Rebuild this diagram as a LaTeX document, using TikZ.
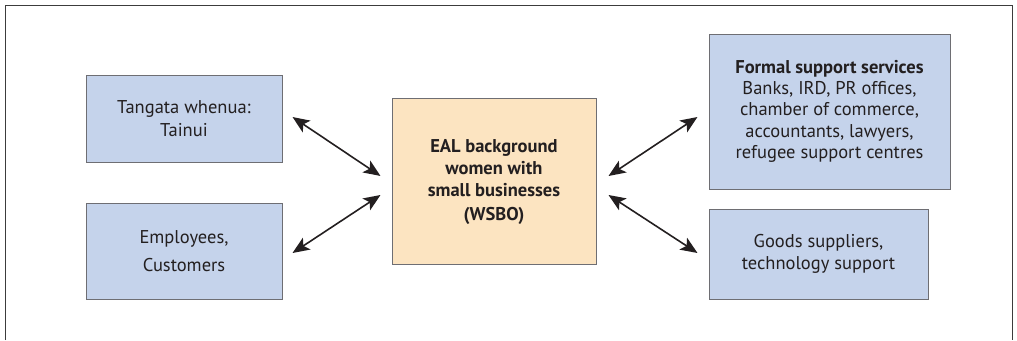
\documentclass[tikz,border=0pt]{standalone}
\usepackage{fontspec}
\setmainfont{PT Sans}
\usetikzlibrary{arrows.meta}
\definecolor{boxblue}{RGB}{197,211,235}
\definecolor{boxorange}{RGB}{252,228,193}
\definecolor{boxline}{RGB}{110,110,115}
\definecolor{frameline}{RGB}{60,60,60}
\definecolor{txt}{RGB}{35,31,32}
\tikzset{
  bluebox/.style={draw=boxline, line width=1pt, fill=boxblue, align=center, inner sep=0pt, font=\fontsize{18.5}{21.5}\selectfont, text=txt},
  orangebox/.style={draw=boxline, line width=1pt, fill=boxorange, align=center, inner sep=0pt, font=\fontsize{18.5}{22}\selectfont\bfseries, text=txt},
  arr/.style={{Stealth[length=17pt,width=14pt,inset=4pt]}-{Stealth[length=17pt,width=14pt,inset=4pt]}, line width=1.6pt, draw=txt},
}
\begin{document}
\begin{tikzpicture}[x=1pt,y=-1pt]
\useasboundingbox (0,0) rectangle (1017,340);
\draw[frameline, line width=1pt] (5,340) -- (5,5) -- (1012,5) -- (1012,340);
\node[bluebox, minimum width=196pt, minimum height=87pt] (t1) at (184,118.5) {Tangata whenua:\\[2pt]Tainui};
\node[bluebox, minimum width=196pt, minimum height=96pt] (t2) at (184,251) {Employees,\\[7pt]Customers};
\node[orangebox, minimum width=204pt, minimum height=166pt] (c) at (494,181) {\mbox{}\\[-6pt]EAL background\\women with\\small businesses\\[2pt](WSBO)};
\node[bluebox, minimum width=241pt, minimum height=155pt] (r1) at (829.5,111.5) {\textbf{Formal support services}\\[-1pt]Banks, IRD, PR offices,\\chamber of commerce,\\accountants, lawyers,\\refugee support centres\\[-18pt]\mbox{}};
\node[bluebox, minimum width=219pt, minimum height=90pt] (r2) at (818.5,254) {Goods suppliers,\\technology support};
\draw[arr] ([xshift=10pt,yshift=1.5pt]t1.east) -- ([xshift=-11pt,yshift=5pt]c.west);
\draw[arr] ([xshift=10pt,yshift=-2pt]t2.east) -- ([xshift=-11pt,yshift=-14pt]c.west);
\draw[arr] ([xshift=12pt,yshift=5pt]c.east) -- ([xshift=-11pt,yshift=-5.5pt]r1.west);
\draw[arr] ([xshift=12pt,yshift=-14pt]c.east) -- ([xshift=-11pt,yshift=1pt]r2.west);
\end{tikzpicture}
\end{document}
